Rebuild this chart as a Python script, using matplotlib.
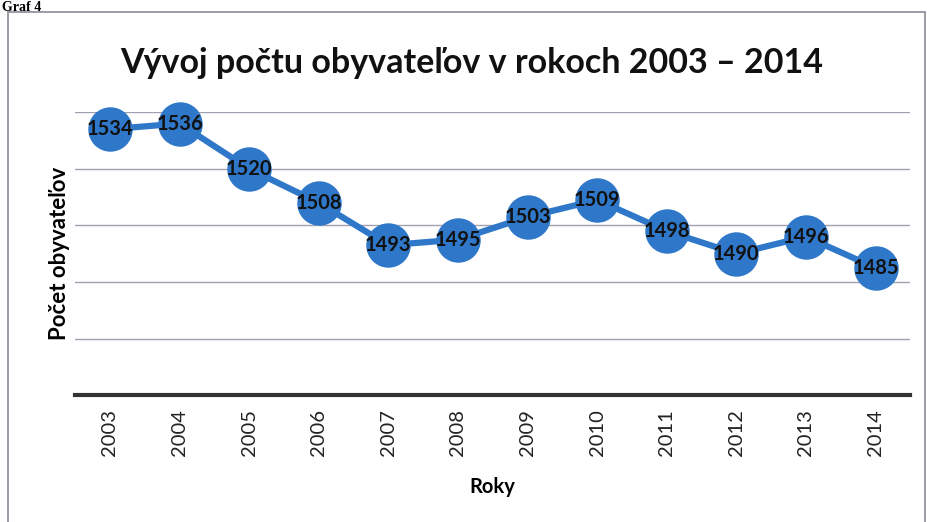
import matplotlib.pyplot as plt
from matplotlib.patches import Rectangle

years = ['2003', '2004', '2005', '2006', '2007', '2008',
         '2009', '2010', '2011', '2012', '2013', '2014']
population = [1534, 1536, 1520, 1508, 1493, 1495,
              1503, 1509, 1498, 1490, 1496, 1485]

plt.rcParams['font.family'] = ['Lato', 'DejaVu Sans']

fig = plt.figure(figsize=(9.28, 5.22), dpi=100)
ax = fig.add_axes([0.081, 0.243, 0.9, 0.542])

blue = '#2F78C9'
x = range(len(years))
ax.plot(x, population, color=blue, linewidth=4.5, marker='o', markersize=32,
        markeredgewidth=0, zorder=3, clip_on=False)
for i, v in enumerate(population):
    ax.text(i, v, str(v), ha='center', va='center', fontsize=14.5,
            fontweight='bold', color='#111111', zorder=4)

ax.set_xlim(-0.5, len(years) - 0.5)
ax.set_ylim(1440, 1540)
ax.set_yticks([1460, 1480, 1500, 1520, 1540])
ax.grid(True, axis='y', color='#a0a0b0', linewidth=1, zorder=1)
ax.tick_params(axis='y', left=False, labelleft=False)
ax.set_xticks(list(x))
ax.set_xticklabels(years, rotation=90, fontsize=14.5, color='#222222')
ax.tick_params(axis='x', length=0, pad=10)
for side in ['top', 'right', 'left']:
    ax.spines[side].set_visible(False)
ax.spines['bottom'].set_linewidth(3)
ax.spines['bottom'].set_color('#333333')

ax.set_xlabel('Roky', fontsize=14.5, fontweight='bold', labelpad=15)
ax.set_ylabel('Počet obyvateľov', fontsize=16, fontweight='bold', labelpad=4)
fig.text(0.508, 0.88, 'Vývoj počtu obyvateľov v rokoch 2003 – 2014',
         ha='center', va='center', fontsize=24.5, fontweight='bold', color='#111111')

# scanned frame and caption
fig.patches.append(Rectangle((0.009, -0.02), 0.988, 0.997, transform=fig.transFigure,
                             fill=False, edgecolor='#8a8a9a', linewidth=1.2))
fig.text(0.002, 0.999, 'Graf 4', fontsize=10, fontweight='bold',
         family=['Liberation Serif'], va='top', ha='left')

fig.savefig('out.png', dpi=100)
